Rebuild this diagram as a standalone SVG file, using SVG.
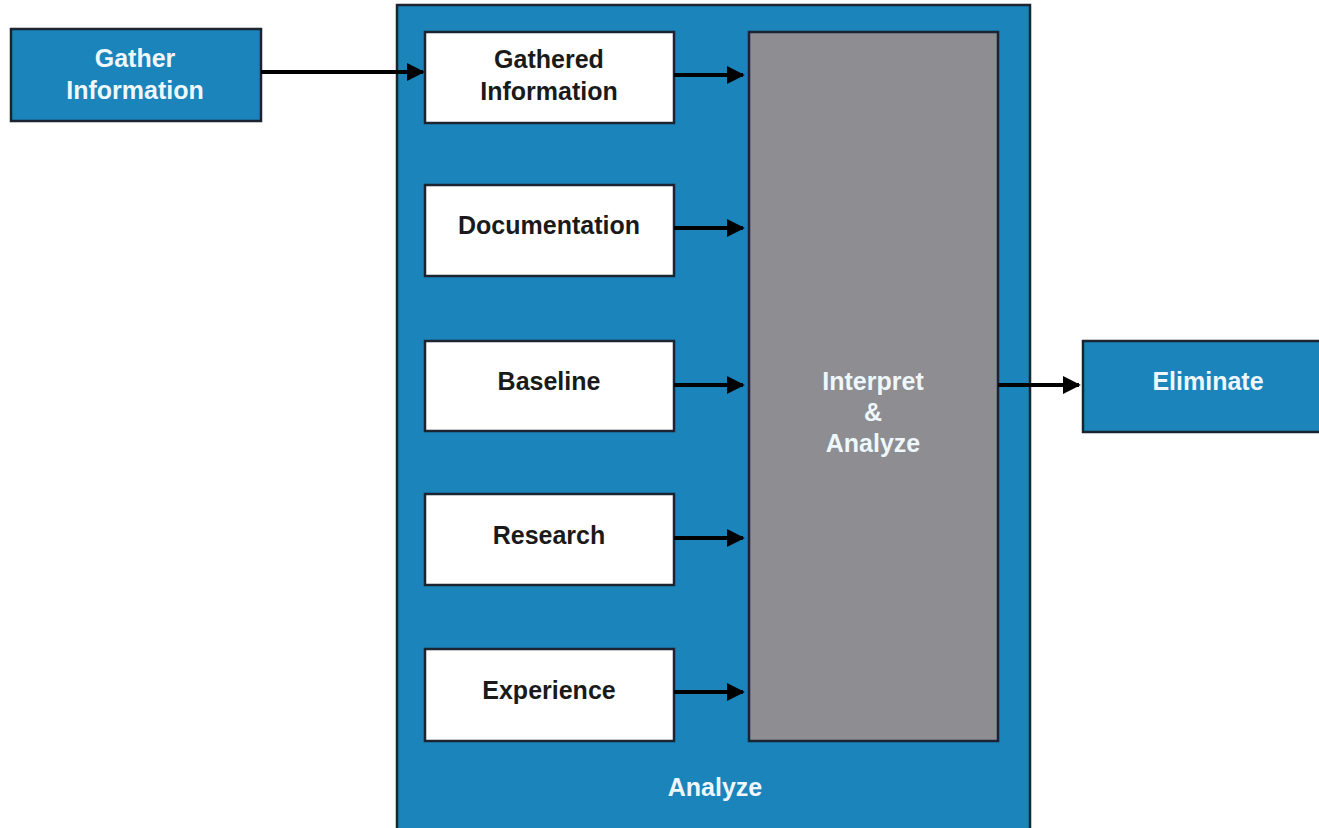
<svg xmlns="http://www.w3.org/2000/svg" width="1319" height="828" viewBox="0 0 1319 828">
<style>
.blue{fill:#1a84bb;stroke:#1b2430;stroke-width:2.5}
.white{fill:#ffffff;stroke:#1b2430;stroke-width:2.5}
.grey{fill:#8d8d92;stroke:#1b2430;stroke-width:2.5}
text{font-family:"Liberation Sans",Arial,sans-serif;font-weight:bold;font-size:25px;text-anchor:middle}
.lt{fill:#eef7fb}
.dk{fill:#1a1a1a}
.conn line{stroke:#000;stroke-width:4}
</style>
<defs>
<marker id="ah" viewBox="0 0 10 10" refX="9" refY="5" markerWidth="4.5" markerHeight="5" orient="auto" markerUnits="strokeWidth">
<path d="M0,0 L10,5 L0,10 z" fill="#000"/>
</marker>
</defs>
<rect width="1319" height="828" fill="#ffffff"/>
<g id="analyze">
<rect class="blue" x="397" y="5" width="633" height="830"/>
<text class="lt" x="715" y="796">Analyze</text>
</g>
<g id="gather">
<rect class="blue" x="11" y="29" width="250" height="92"/>
<text class="lt" x="135" y="67">Gather</text>
<text class="lt" x="135" y="99">Information</text>
</g>
<g id="gathered">
<rect class="white" x="425" y="32" width="249" height="91"/>
<text class="dk" x="549" y="68">Gathered</text>
<text class="dk" x="549" y="100">Information</text>
</g>
<g id="documentation">
<rect class="white" x="425" y="185" width="249" height="91"/>
<text class="dk" x="549" y="234">Documentation</text>
</g>
<g id="baseline">
<rect class="white" x="425" y="341" width="249" height="90"/>
<text class="dk" x="549" y="390">Baseline</text>
</g>
<g id="research">
<rect class="white" x="425" y="494" width="249" height="91"/>
<text class="dk" x="549" y="544">Research</text>
</g>
<g id="experience">
<rect class="white" x="425" y="649" width="249" height="92"/>
<text class="dk" x="549" y="699">Experience</text>
</g>
<g id="interpret">
<rect class="grey" x="749" y="32" width="249" height="709"/>
<text class="lt" x="873" y="390">Interpret</text>
<text class="lt" x="873" y="421">&amp;</text>
<text class="lt" x="873" y="452">Analyze</text>
</g>
<g id="eliminate">
<rect class="blue" x="1083" y="341" width="245" height="91"/>
<text class="lt" x="1208" y="390">Eliminate</text>
</g>
<g class="conn" id="connectors">
<line x1="261" y1="72" x2="423" y2="72" marker-end="url(#ah)"/>
<line x1="674" y1="75" x2="743" y2="75" marker-end="url(#ah)"/>
<line x1="674" y1="228" x2="743" y2="228" marker-end="url(#ah)"/>
<line x1="674" y1="385" x2="743" y2="385" marker-end="url(#ah)"/>
<line x1="674" y1="538" x2="743" y2="538" marker-end="url(#ah)"/>
<line x1="674" y1="692" x2="743" y2="692" marker-end="url(#ah)"/>
<line x1="998" y1="385" x2="1079" y2="385" marker-end="url(#ah)"/>
</g>
</svg>
